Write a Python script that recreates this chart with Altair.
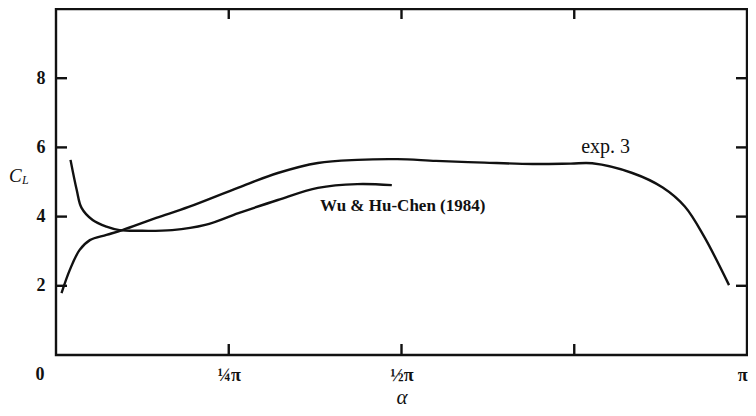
import altair as alt
import pandas as pd

# alpha in units of pi, C_L values
exp3_alpha = [0.008, 0.020, 0.034, 0.049, 0.073, 0.096, 0.145, 0.192, 0.264, 0.321,
              0.379, 0.436, 0.494, 0.55, 0.62, 0.69, 0.745, 0.776, 0.834, 0.878,
              0.910, 0.938, 0.974]
exp3_cl = [1.79, 2.46, 3.03, 3.32, 3.47, 3.61, 3.96, 4.28, 4.84, 5.26,
           5.55, 5.64, 5.66, 5.61, 5.56, 5.52, 5.53, 5.54, 5.26, 4.84,
           4.29, 3.42, 2.02]

wu_alpha = [0.021, 0.030, 0.037, 0.053, 0.073, 0.092, 0.121, 0.168, 0.216, 0.264,
            0.321, 0.379, 0.436, 0.486]
wu_cl = [5.64, 4.77, 4.25, 3.90, 3.71, 3.61, 3.59, 3.61, 3.76, 4.10,
         4.48, 4.83, 4.94, 4.91]

y_ticks = [2, 4, 6, 8]
x_ticks = [0.25, 0.5, 0.75]
x_labels = [0.25, 0.5, 1.0]

df = pd.concat([
    pd.DataFrame({"a": exp3_alpha, "cl": exp3_cl, "s": "exp. 3"}),
    pd.DataFrame({"a": wu_alpha, "cl": wu_cl, "s": "Wu & Hu-Chen (1984)"}),
])

W, H = 691, 346
FONT = "Liberation Serif"
INK = "#111"

xs = alt.Scale(domain=[0, 1], nice=False, zero=False)
ys = alt.Scale(domain=[0, 10], nice=False)

xaxis = alt.Axis(values=x_labels, grid=False, domain=False, ticks=False, tickSize=0,
                 labelExpr="datum.value == 0.25 ? '¼π' : datum.value == 0.5 ? '½π' : 'π'",
                 labelFlush=True, labelPadding=20, labelBaseline="middle",
                 labelFont=FONT, labelFontSize=18, labelFontWeight="bold", labelColor=INK,
                 title="α", titleFont=FONT, titleFontSize=21, titleFontStyle="italic",
                 titleFontWeight="normal", titleColor=INK, titleY=48, titleBaseline="alphabetic")
yaxis = alt.Axis(values=y_ticks, grid=False, domain=False, ticks=False, tickSize=0,
                 labelPadding=11, labelFont=FONT, labelFontSize=18, labelFontWeight="bold",
                 labelColor=INK, title=None)

lines = alt.Chart(df).mark_line(color=INK, strokeWidth=2.4, interpolate="catmull-rom").encode(
    x=alt.X("a:Q", scale=xs, axis=xaxis),
    y=alt.Y("cl:Q", scale=ys, axis=yaxis),
    detail="s:N",
)

yt = pd.DataFrame({"v": y_ticks})
xt = pd.DataFrame({"v": x_ticks})
tl = alt.Chart(yt).mark_rule(color=INK, strokeWidth=2.4).encode(
    y=alt.Y("v:Q", scale=ys), x=alt.value(0), x2=alt.value(11))
tr = alt.Chart(yt).mark_rule(color=INK, strokeWidth=2.4).encode(
    y=alt.Y("v:Q", scale=ys), x=alt.value(W - 11), x2=alt.value(W))
tb = alt.Chart(xt).mark_rule(color=INK, strokeWidth=2.4).encode(
    x=alt.X("v:Q", scale=xs), y=alt.value(H), y2=alt.value(H - 11))
tt = alt.Chart(xt).mark_rule(color=INK, strokeWidth=2.4).encode(
    x=alt.X("v:Q", scale=xs), y=alt.value(0), y2=alt.value(10))

ann = pd.DataFrame({"a": [0.760, 0.382], "cl": [5.84, 4.16],
                    "t": ["exp. 3", "Wu & Hu-Chen (1984)"]})
txt1 = alt.Chart(ann.iloc[[0]]).mark_text(font=FONT, fontSize=20, align="left",
                                          baseline="alphabetic", color=INK).encode(
    x=alt.X("a:Q", scale=xs), y=alt.Y("cl:Q", scale=ys), text="t:N")
txt2 = alt.Chart(ann.iloc[[1]]).mark_text(font=FONT, fontSize=17, align="left", fontWeight="bold",
                                          baseline="alphabetic", color=INK).encode(
    x=alt.X("a:Q", scale=xs), y=alt.Y("cl:Q", scale=ys), text="t:N")

zero = alt.Chart(pd.DataFrame({"a": [0], "cl": [0], "t": ["0"]})).mark_text(
    font=FONT, fontSize=18, fontWeight="bold", align="center", baseline="middle",
    dx=-16, dy=20, color=INK).encode(
    x=alt.X("a:Q", scale=xs), y=alt.Y("cl:Q", scale=ys), text="t:N")

cl_c = alt.Chart(pd.DataFrame({"t": ["C"]})).mark_text(
    font=FONT, fontSize=19, fontStyle="italic", align="left", baseline="alphabetic",
    color=INK).encode(x=alt.value(-47), y=alt.value(173), text="t:N")
cl_l = alt.Chart(pd.DataFrame({"t": ["L"]})).mark_text(
    font=FONT, fontSize=12, fontStyle="italic", align="left", baseline="alphabetic",
    color=INK).encode(x=alt.value(-34), y=alt.value(175), text="t:N")

chart = alt.layer(lines, tl, tr, tb, tt, txt1, txt2, zero, cl_c, cl_l).properties(
    width=W, height=H,
    autosize=alt.AutoSizeParams(type="none"),
    padding={"left": 48, "top": 1, "right": 1, "bottom": 53},
    background="white",
).configure_view(stroke=INK, strokeWidth=2.4)

chart.save("out.html", embed_options={"renderer": "svg", "actions": False})
